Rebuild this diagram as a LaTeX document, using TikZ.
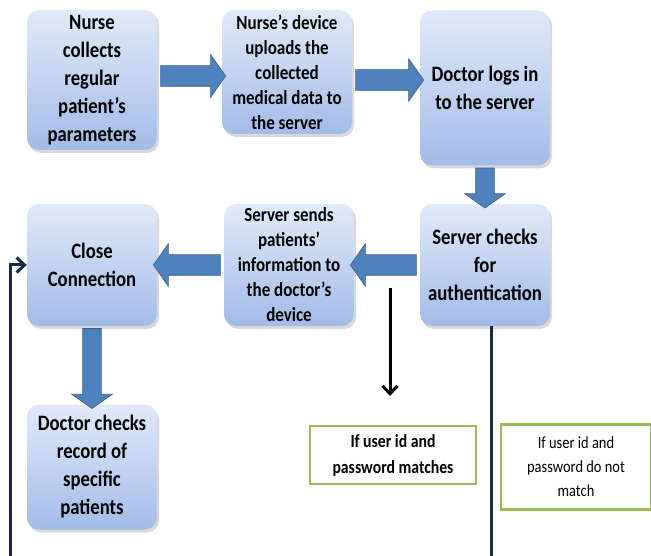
\documentclass[tikz,border=0pt]{standalone}
\usepackage{fontspec}
\setmainfont{Carlito}[FakeStretch=0.85]
\usetikzlibrary{arrows,arrows.meta,positioning,shapes,shapes.arrows,shadows}
\definecolor{boxtop}{RGB}{226,234,249}
\definecolor{boxbot}{RGB}{163,187,232}
\definecolor{arrowblue}{RGB}{79,129,189}
\definecolor{arrowedge}{RGB}{56,93,138}
\definecolor{leafgreen}{RGB}{155,187,89}
\definecolor{navy}{RGB}{23,40,75}

\begin{document}
\begin{tikzpicture}[x=1pt,y=-1pt,
    stepbox/.style={rounded corners=12pt, top color=boxtop, bottom color=boxbot,
      minimum width=130pt, align=center, inner sep=2pt,
      drop shadow={opacity=0.3, shadow xshift=2pt, shadow yshift=-3pt},
      font=\bfseries\fontsize{22}{28}\selectfont},
    smallbox/.style={stepbox, font=\bfseries\fontsize{20}{25}\selectfont},
    notebox/.style={draw=leafgreen, line width=2.2pt, fill=white, align=center,
      font=\bfseries\fontsize{18.5}{26}\selectfont},
    fatarrow/.style={single arrow, fill=arrowblue, draw=arrowedge, line width=0.6pt,
      inner sep=10pt, single arrow head extend=11pt, single arrow tip angle=110,
      minimum height=#1},
    loopline/.style={draw=navy, line width=3pt},
    >={Straight Barb[length=8pt,width=15pt]}]
    \useasboundingbox (0,0) rectangle (651,556);
    \clip (0,0) rectangle (651,556);

    % top row
    \node[stepbox, minimum height=140pt] (nurse) at (92,80) {Nurse\\collects\\regular\\patient’s\\parameters};
    \node[smallbox, minimum height=124pt] (upload) at (287,72) {Nurse’s device\\uploads the\\collected\\medical data to\\the server};
    \node[stepbox, minimum height=155pt] (login) at (485,88) {Doctor logs in\\to the server};

    % middle row
    \node[stepbox, minimum height=122pt] (auth) at (485,265) {Server checks\\for\\authentication};
    \node[smallbox, minimum height=122pt] (sends) at (289,265) {Server sends\\patients’\\information to\\the doctor’s\\device};
    \node[stepbox, minimum height=122pt] (close) at (92,265) {Close\\Connection};

    % bottom row
    \node[stepbox, minimum height=125pt] (record) at (92,467) {Doctor checks\\record of\\specific\\patients};
    \node[notebox, minimum width=166pt, minimum height=58pt] (match) at (393,455) {If user id and\\password matches};
    \node[notebox, minimum width=150pt, minimum height=85pt,
      font=\fontsize{17}{24}\selectfont] (nomatch) at (576,467) {If user id and\\password do not\\match};

    % block arrows
    \path (nurse.east) -- node[fatarrow=65pt] (a1) {} (upload.west);
    \path (upload.east) -- node[fatarrow=68pt] (a2) {} (login.west);
    \path (login.south) -- node[fatarrow=40pt, shape border rotate=270, inner sep=9pt] (a3) {} (auth.north);
    \path (auth.west) -- node[fatarrow=66pt, shape border rotate=180] (a4) {} (sends.east);
    \path (sends.west) -- node[fatarrow=67pt, shape border rotate=180] (a5) {} (close.east);
    \path (close.south) -- node[fatarrow=80pt, shape border rotate=270, inner sep=9pt] (a6) {} (record.north);

    % thin connectors
    \coordinate (drop) at (390,288);
    \coordinate (dropend) at (390,396);
    \draw[->, line width=3pt] (drop) -- (dropend);

    \coordinate (cornerR) at (491,562);
    \coordinate (cornerL) at (10,562);
    \draw[loopline,->] (auth.south -| cornerR) -- (cornerR) -- (cornerL) |- (close.west);
\end{tikzpicture}
\end{document}
